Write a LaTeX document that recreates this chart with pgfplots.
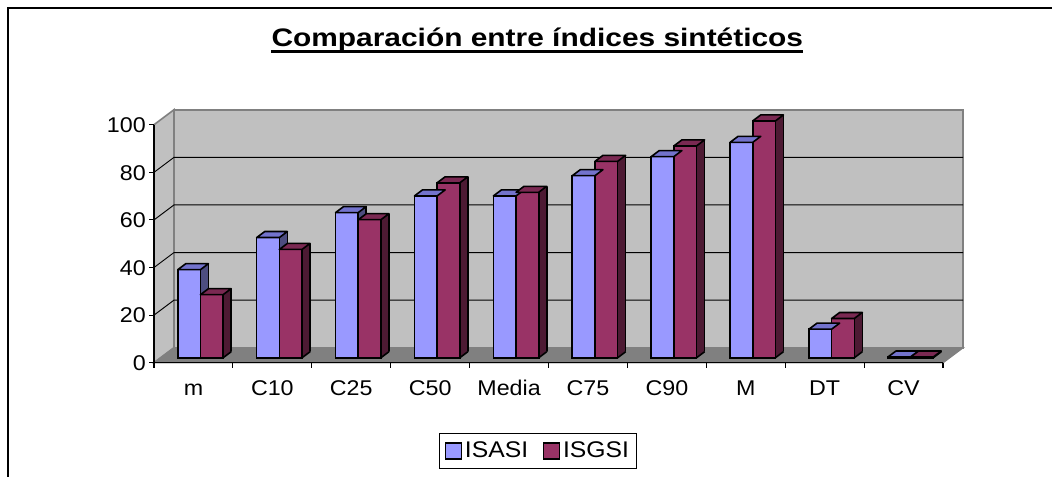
\documentclass[border=0pt]{standalone}
\usepackage{fontspec}
\setmainfont{Liberation Sans}
\newfontfamily\tickfont[FakeStretch=1.09]{Liberation Sans}
\newfontfamily\titlefont[FakeStretch=1.18]{Liberation Sans}
\usepackage{pgfplots}
\usepackage{pgfplotstable}
\pgfplotsset{compat=1.18}
\usetikzlibrary{calc}

\definecolor{isasiF}{HTML}{9999FF}
\definecolor{isasiT}{HTML}{7373CC}
\definecolor{isasiS}{HTML}{4D4D80}
\definecolor{isgsiF}{HTML}{993366}
\definecolor{isgsiT}{HTML}{7A2952}
\definecolor{isgsiS}{HTML}{4D1A33}
\definecolor{wallc}{HTML}{C0C0C0}
\definecolor{floorc}{HTML}{808080}

% top faces and bottom edges of the 3D blocks (bar width 17pt, depth 6pt x 4.5pt)
\pgfdeclareplotmark{topA}{\pgfpathmoveto{\pgfqpoint{-17pt}{0pt}}\pgfpathlineto{\pgfqpoint{0pt}{0pt}}\pgfpathlineto{\pgfqpoint{6pt}{4.5pt}}\pgfpathlineto{\pgfqpoint{-11pt}{4.5pt}}\pgfpathclose\pgfusepathqfillstroke}
\pgfdeclareplotmark{topB}{\pgfpathmoveto{\pgfqpoint{0pt}{0pt}}\pgfpathlineto{\pgfqpoint{17pt}{0pt}}\pgfpathlineto{\pgfqpoint{23pt}{4.5pt}}\pgfpathlineto{\pgfqpoint{6pt}{4.5pt}}\pgfpathclose\pgfusepathqfillstroke}
\pgfdeclareplotmark{botB}{\pgfpathmoveto{\pgfqpoint{17pt}{0pt}}\pgfpathlineto{\pgfqpoint{23pt}{4.5pt}}\pgfusepathqstroke}

\pgfplotstableread{
x a b
0 37 26.5
1 50.5 45.5
2 61 58
3 68 73.5
4 68 69.5
5 76.5 82.5
6 84.5 89
7 90.5 99.5
8 12 16.5
9 0.3 0.3
}\data

\begin{document}
\begin{tikzpicture}
\useasboundingbox (0,0) rectangle (789pt,357pt);
\begin{axis}[
    at={(120.75pt,88.7pt)}, anchor=south west,
    scale only axis, width=591.75pt, height=178.5pt,
    xmin=-0.5, xmax=9.5, ymin=0, ymax=100,
    clip=false,
    axis line style={draw=none},
    tick style={draw=none},
    major tick length=0pt,
    xtick={0,...,9},
    xticklabels={m,C10,C25,C50,Media,C75,C90,M,DT,CV},
    ytick={0,20,...,100},
    tick label style={font=\tickfont\fontsize{16}{19}\selectfont, inner sep=0pt},
    yticklabel style={anchor=east, xshift=-11.25pt, yshift=-4pt},
    xticklabel style={anchor=base, xshift=-5.25pt, yshift=-28pt},
    /pgf/number format/assume math mode=true,
    legend style={at={(0.478,-0.4676)}, anchor=south, draw=black, line width=0.75pt,
        font=\tickfont\fontsize{17}{20}\selectfont, inner xsep=4pt, inner ysep=4.5pt,
        /tikz/every even column/.append style={column sep=9pt}},
    legend columns=2,
    legend image code/.code={\draw[#1, line width=1.2pt] (0pt,-6pt) rectangle (12pt,6pt);},
]
% walls and floor
\filldraw[fill=wallc, draw=floorc, line width=1.2pt]
    ($(axis cs:-0.5,0)+(-5.25pt,-3.75pt)$) -- ($(axis cs:-0.5,100)+(-5.25pt,-3.75pt)$)
    -- ($(axis cs:-0.5,100)+(9.75pt,7.5pt)$) -- ($(axis cs:-0.5,0)+(9.75pt,7.5pt)$) -- cycle;
\filldraw[fill=wallc, draw=floorc, line width=1.2pt]
    ($(axis cs:-0.5,0)+(9.75pt,7.5pt)$) rectangle ($(axis cs:9.5,100)+(9.75pt,7.5pt)$);
\filldraw[fill=floorc, draw=floorc, line width=1pt]
    ($(axis cs:-0.5,0)+(-5.25pt,-3.75pt)$) -- ($(axis cs:9.5,0)+(-5.25pt,-3.75pt)$)
    -- ($(axis cs:9.5,0)+(9.75pt,7.5pt)$) -- ($(axis cs:-0.5,0)+(9.75pt,7.5pt)$) -- cycle;
\pgfplotsinvokeforeach{20,40,60,80}{
  \draw[black, line width=0.7pt] ($(axis cs:-0.5,#1)+(-5.25pt,-3.75pt)$)
    -- ($(axis cs:-0.5,#1)+(9.75pt,7.5pt)$) -- ($(axis cs:9.5,#1)+(9.75pt,7.5pt)$);
}
% front axes
\draw[black, line width=0.8pt] ($(axis cs:-0.5,100)+(-5.25pt,-3.75pt)$)
    -- ($(axis cs:-0.5,0)+(-5.25pt,-3.75pt)$) -- ($(axis cs:9.5,0)+(-5.25pt,-3.75pt)$);
\pgfplotsinvokeforeach{0,20,...,100}{
  \draw[black, line width=0.8pt] ($(axis cs:-0.5,#1)+(-5.25pt,-3.75pt)$) -- ++(-3.75pt,0pt);
}
\pgfplotsinvokeforeach{-0.5,0.5,...,9.5}{
  \draw[black, line width=0.8pt] ($(axis cs:#1,0)+(-5.25pt,-3.75pt)$) -- ++(0pt,-3.75pt);
}

% ISASI
\pgfplotsinvokeforeach{1,...,8}{
  \addplot[ybar, bar width=17pt, bar shift=-8.5pt, fill=isasiS, draw=none,
    xshift=#1*0.75pt, yshift=#1*0.5625pt, forget plot] table[x=x,y=a]{\data};
}
\addplot[ybar, bar width=0pt, bar shift=6pt, draw=black, line width=1.2pt,
    yshift=4.5pt, forget plot] table[x=x,y=a]{\data};
\addplot[ybar, bar width=17pt, bar shift=-8.5pt, fill=isasiF, draw=black, line width=1.2pt,
    forget plot] table[x=x,y=a]{\data};
\addplot[only marks, mark=topA, mark options={fill=isasiT, draw=black, line width=1.2pt,
    line join=round}, forget plot] table[x=x,y=a]{\data};

% ISGSI
\pgfplotsinvokeforeach{1,...,8}{
  \addplot[ybar, bar width=17pt, bar shift=8.5pt, fill=isgsiS, draw=none,
    xshift=#1*0.75pt, yshift=#1*0.5625pt, forget plot] table[x=x,y=b]{\data};
}
\addplot[ybar, bar width=0pt, bar shift=23pt, draw=black, line width=1.2pt,
    yshift=4.5pt, forget plot] table[x=x,y=b]{\data};
\addplot[only marks, mark=botB, mark options={draw=black, line width=1.2pt}, forget plot]
    table[x=x,y expr=0]{\data};
\addplot[ybar, bar width=17pt, bar shift=8.5pt, fill=isgsiF, draw=black, line width=1.2pt,
    forget plot] table[x=x,y=b]{\data};
\addplot[only marks, mark=topB, mark options={fill=isgsiT, draw=black, line width=1.2pt,
    line join=round}, forget plot] table[x=x,y=b]{\data};

\addlegendimage{fill=isasiF, draw=black}
\addlegendentry{ISASI}
\addlegendimage{fill=isgsiF, draw=black}
\addlegendentry{ISGSI}
\end{axis}

% title and outer frame
\node[inner sep=0pt, anchor=base, font=\titlefont\bfseries\fontsize{19}{23}\selectfont]
    (title) at (403pt,322pt) {Comparación entre índices sintéticos};
\draw[line width=2.25pt] ($(title.base west)+(0,-3.9pt)$) -- ($(title.base east)+(0,-3.9pt)$);
\draw[black, line width=0.8pt] (6pt,-2pt) -- (6pt,351pt) -- (792pt,351pt);
\end{tikzpicture}
\end{document}
